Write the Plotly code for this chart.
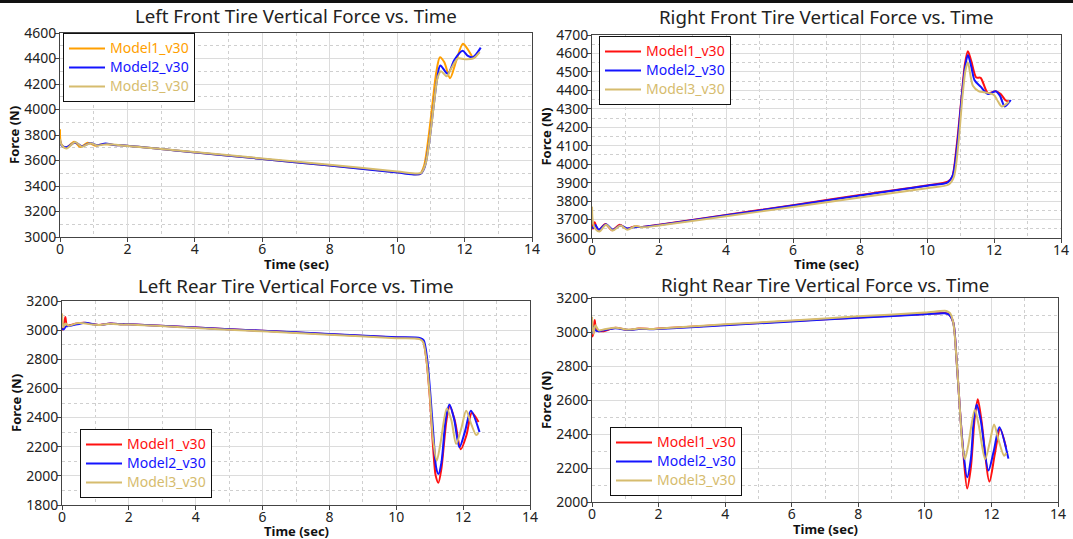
import plotly.graph_objects as go

# ---------------- data ----------------
SERIES_NAMES = ["Model1_v30", "Model2_v30", "Model3_v30"]
TITLES = ["Left Front Tire Vertical Force vs. Time",
          "Right Front Tire Vertical Force vs. Time",
          "Left Rear Tire Vertical Force vs. Time",
          "Right Rear Tire Vertical Force vs. Time"]
X_TITLE = "Time (sec)"
Y_TITLE = "Force (N)"
X_TICKS = [0, 2, 4, 6, 8, 10, 12, 14]

# Left front
LF_t1 = [0, 0.03, 0.17, 0.42, 0.6, 0.82, 1.05, 1.3, 1.6, 2.0, 3.5, 6.0, 8.0, 10.0, 10.55, 10.68, 10.8, 10.92, 11.05, 11.16, 11.27, 11.4, 11.57, 11.75, 11.95, 12.1, 12.27, 12.42]
LF_m1 = [3845, 3735, 3696, 3748, 3705, 3740, 3716, 3730, 3722, 3716, 3677, 3612, 3560, 3508, 3492, 3495, 3560, 3760, 4050, 4290, 4410, 4370, 4245, 4380, 4515, 4470, 4405, 4450]
LF_t2 = [0, 0.04, 0.2, 0.45, 0.65, 0.9, 1.1, 1.35, 1.6, 2.0, 3.5, 6.0, 8.0, 10.0, 10.55, 10.7, 10.82, 10.95, 11.08, 11.18, 11.28, 11.5, 11.7, 11.94, 12.1, 12.25, 12.48]
LF_m2 = [3760, 3720, 3705, 3742, 3712, 3738, 3720, 3733, 3722, 3716, 3677, 3612, 3560, 3506, 3490, 3497, 3550, 3740, 4020, 4230, 4345, 4280, 4390, 4460, 4420, 4410, 4485]
LF_t3 = [0, 0.05, 0.2, 0.45, 0.65, 0.9, 1.1, 1.4, 2.0, 3.5, 6.0, 8.0, 10.0, 10.6, 10.72, 10.85, 10.97, 11.1, 11.2, 11.3, 11.47, 11.62, 11.8, 12.0, 12.25, 12.45]
LF_m3 = [3770, 3720, 3695, 3745, 3708, 3735, 3718, 3728, 3714, 3679, 3616, 3566, 3514, 3498, 3505, 3580, 3780, 4060, 4250, 4300, 4260, 4330, 4400, 4395, 4400, 4450]

# Right front
RF_t1 = [0, 0.03, 0.08, 0.18, 0.4, 0.6, 0.83, 1.03, 1.28, 1.5, 2.0, 4.0, 6.0, 8.0, 10.0, 10.62, 10.75, 10.88, 11.03, 11.13, 11.22, 11.32, 11.47, 11.6, 11.82, 12.05, 12.2, 12.35, 12.47]
RF_m1 = [3680, 3650, 3685, 3640, 3676, 3642, 3672, 3650, 3663, 3660, 3672, 3725, 3778, 3833, 3885, 3905, 3930, 4090, 4360, 4540, 4612, 4560, 4470, 4468, 4385, 4395, 4380, 4345, 4340]
RF_t2 = [0, 0.04, 0.1, 0.2, 0.42, 0.62, 0.85, 1.05, 1.3, 1.5, 2.0, 4.0, 6.0, 8.0, 10.0, 10.62, 10.76, 10.9, 11.04, 11.14, 11.22, 11.32, 11.42, 11.6, 11.82, 12.05, 12.18, 12.32, 12.5]
RF_m2 = [3660, 3655, 3670, 3645, 3674, 3645, 3668, 3652, 3660, 3660, 3670, 3723, 3776, 3830, 3883, 3902, 3935, 4100, 4370, 4530, 4592, 4530, 4455, 4420, 4380, 4395, 4370, 4313, 4348]
RF_t3 = [0, 0.03, 0.1, 0.22, 0.42, 0.62, 0.85, 1.05, 1.3, 1.5, 2.0, 4.0, 6.0, 8.0, 10.0, 10.65, 10.8, 10.93, 11.06, 11.15, 11.22, 11.37, 11.55, 11.7, 11.85, 12.0, 12.12, 12.23, 12.45]
RF_m3 = [3770, 3680, 3650, 3635, 3672, 3640, 3668, 3645, 3665, 3658, 3668, 3718, 3768, 3820, 3870, 3890, 3930, 4100, 4370, 4510, 4552, 4425, 4395, 4390, 4385, 4375, 4340, 4313, 4340]

# Left rear
LR_t1 = [0, 0.05, 0.1, 0.15, 0.25, 0.45, 0.65, 0.9, 1.1, 1.45, 1.8, 2.0, 4.0, 6.0, 8.0, 10.0, 10.7, 10.8, 10.9, 11.0, 11.1, 11.18, 11.26, 11.35, 11.5, 11.6, 11.75, 11.93, 12.1, 12.26, 12.46]
LR_m1 = [3000, 3020, 3090, 3030, 3035, 3045, 3050, 3042, 3036, 3046, 3040, 3040, 3018, 2995, 2972, 2950, 2942, 2925, 2800, 2550, 2200, 2000, 1953, 2050, 2380, 2480, 2380, 2182, 2280, 2433, 2370]
LR_t2 = [0, 0.05, 0.12, 0.25, 0.45, 0.7, 0.95, 1.15, 1.45, 1.8, 2.0, 4.0, 6.0, 8.0, 10.0, 10.72, 10.82, 10.92, 11.02, 11.12, 11.19, 11.26, 11.35, 11.48, 11.59, 11.73, 11.89, 12.05, 12.23, 12.49]
LR_m2 = [3010, 3005, 3025, 3030, 3040, 3050, 3040, 3035, 3046, 3040, 3040, 3018, 2996, 2974, 2952, 2945, 2930, 2810, 2560, 2250, 2060, 2012, 2090, 2390, 2490, 2390, 2196, 2300, 2446, 2300]
LR_t3 = [0, 0.04, 0.1, 0.2, 0.45, 0.65, 0.9, 1.15, 1.45, 1.8, 2.0, 4.0, 6.0, 8.0, 10.0, 10.7, 10.8, 10.9, 11.0, 11.1, 11.21, 11.32, 11.51, 11.65, 11.79, 11.95, 12.09, 12.25, 12.39, 12.46]
LR_m3 = [3115, 3020, 3045, 3030, 3048, 3048, 3038, 3036, 3044, 3038, 3038, 3015, 2992, 2968, 2945, 2938, 2920, 2800, 2560, 2250, 2104, 2220, 2463, 2380, 2218, 2330, 2446, 2350, 2280, 2295]

# Right rear
RR_t1 = [0, 0.04, 0.08, 0.13, 0.2, 0.35, 0.7, 1.1, 1.4, 1.8, 2.0, 4.0, 6.0, 8.0, 10.0, 10.6, 10.72, 10.85, 10.95, 11.05, 11.15, 11.27, 11.38, 11.5, 11.59, 11.7, 11.94, 12.1, 12.26, 12.44]
RR_m1 = [2970, 2990, 3070, 3010, 3005, 3005, 3025, 3012, 3020, 3018, 3020, 3042, 3064, 3086, 3106, 3112, 3105, 3058, 2845, 2553, 2300, 2080, 2200, 2500, 2605, 2480, 2120, 2280, 2430, 2320]
RR_t2 = [0, 0.05, 0.1, 0.2, 0.35, 0.7, 1.1, 1.4, 1.8, 2.0, 4.0, 6.0, 8.0, 10.0, 10.6, 10.72, 10.85, 10.95, 11.05, 11.15, 11.27, 11.38, 11.47, 11.56, 11.68, 11.91, 12.07, 12.24, 12.51]
RR_m2 = [2990, 3030, 3010, 3005, 3010, 3022, 3012, 3018, 3016, 3018, 3040, 3062, 3084, 3104, 3110, 3103, 3058, 2845, 2553, 2310, 2146, 2250, 2480, 2573, 2480, 2185, 2300, 2440, 2255]
RR_t3 = [0, 0.04, 0.1, 0.2, 0.35, 0.7, 1.1, 1.4, 1.8, 2.0, 4.0, 6.0, 8.0, 10.0, 10.65, 10.75, 10.85, 10.95, 11.05, 11.13, 11.2, 11.3, 11.5, 11.62, 11.81, 11.95, 12.08, 12.22, 12.38, 12.45]
RR_m3 = [3090, 2990, 3040, 3010, 3015, 3025, 3014, 3020, 3018, 3020, 3045, 3068, 3092, 3114, 3124, 3112, 3058, 2845, 2553, 2330, 2252, 2330, 2543, 2450, 2252, 2350, 2456, 2360, 2272, 2290]

# ---------------- style / layout ----------------
W, H = 1073, 539
FONT = "Noto Sans"
C_ORANGE, C_RED, C_BLUE, C_TAN = "#FF9F00", "#FF1010", "#1414FF", "#D6BC6E"

panels = [
    dict(data=[(LF_t1, LF_m1), (LF_t2, LF_m2), (LF_t3, LF_m3)], colors=[C_ORANGE, C_BLUE, C_TAN],
         xpx=(60, 532), ypx=(33, 237), yr=[3000, 4600], dt=200, mdt=100, leg=(63, 35), tpos=15, xt=264),
    dict(data=[(RF_t1, RF_m1), (RF_t2, RF_m2), (RF_t3, RF_m3)], colors=[C_RED, C_BLUE, C_TAN],
         xpx=(592, 1061), ypx=(35, 238), yr=[3600, 4700], dt=100, mdt=50, leg=(599, 38), tpos=17, xt=264),
    dict(data=[(LR_t1, LR_m1), (LR_t2, LR_m2), (LR_t3, LR_m3)], colors=[C_RED, C_BLUE, C_TAN],
         xpx=(62, 530), ypx=(301, 505), yr=[1800, 3200], dt=200, mdt=100, leg=(80, 431), tpos=285, xt=531),
    dict(data=[(RR_t1, RR_m1), (RR_t2, RR_m2), (RR_t3, RR_m3)], colors=[C_RED, C_BLUE, C_TAN],
         xpx=(592, 1058), ypx=(298, 502), yr=[2000, 3200], dt=200, mdt=100, leg=(610, 429), tpos=284, xt=529),
]

fig = go.Figure()
layout = dict(width=W, height=H, margin=dict(l=0, r=0, t=0, b=0),
              paper_bgcolor="white", plot_bgcolor="white",
              font=dict(family=FONT, size=14, color="#222222"),
              showlegend=True, annotations=[], shapes=[])

for i, p in enumerate(panels):
    k = i + 1
    sfx = "" if k == 1 else str(k)
    legname = "legend" if k == 1 else f"legend{k}"
    for j, ((t, v), col) in enumerate(zip(p["data"], p["colors"])):
        fig.add_trace(go.Scatter(
            x=t, y=v, mode="lines",
            line=dict(color=col, width=2, shape="spline", smoothing=0.8),
            name=f'<span style="color:{col};font-size:14px">{SERIES_NAMES[j]}</span>',
            xaxis=f"x{sfx}", yaxis=f"y{sfx}", legend=legname,
            legendrank=j + 1,
        ))
    x0, x1 = p["xpx"]
    y0, y1 = p["ypx"]
    layout[f"xaxis{sfx}"] = dict(
        domain=[x0 / W, x1 / W], range=[0, 14], tickvals=X_TICKS, anchor=f"y{sfx}",
        showgrid=True, gridcolor="#dcdcdc", gridwidth=1,
        minor=dict(dtick=1, showgrid=True, gridcolor="#cfcfcf", griddash="dot", gridwidth=1),
        showline=True, linecolor="#444444", linewidth=1, mirror=True,
        ticks="outside", ticklen=4, tickcolor="#444444", ticklabelstandoff=-5,
        tickfont=dict(size=14, color="#222222"), zeroline=False,
        automargin=False,
    )
    layout[f"yaxis{sfx}"] = dict(
        domain=[1 - y1 / H, 1 - y0 / H], range=p["yr"], dtick=p["dt"], tick0=p["yr"][0],
        anchor=f"x{sfx}",
        showgrid=True, gridcolor="#dcdcdc", gridwidth=1,
        minor=dict(dtick=p["mdt"], showgrid=True, gridcolor="#cfcfcf", griddash="dot", gridwidth=1),
        showline=True, linecolor="#444444", linewidth=1, mirror=True,
        ticks="outside", ticklen=4, tickcolor="#444444", ticklabelstandoff=-4,
        tickfont=dict(size=14, color="#222222"), zeroline=False,
        title=dict(text=f"<b>{Y_TITLE}</b>", font=dict(size=13, color="#111111"), standoff=1),
        automargin=False,
    )
    lx, ly = p["leg"]
    layout[legname] = dict(
        x=lx / W, y=1 - (ly - 2) / H, xanchor="left", yanchor="top",
        bgcolor="white", bordercolor="#111111", borderwidth=1,
        font=dict(size=11, family=FONT), tracegroupgap=0, itemwidth=36,
    )
    layout["annotations"].append(dict(
        text=TITLES[i], x=(x0 + x1) / 2 / W, y=1 - p["tpos"] / H, xref="paper", yref="paper",
        xanchor="center", yanchor="middle", showarrow=False,
        font=dict(size=18.7, color="#222222", family=FONT),
    ))
    layout["annotations"].append(dict(
        text=f"<b>{X_TITLE}</b>", x=(x0 + x1) / 2 / W, y=1 - p["xt"] / H, xref="paper", yref="paper",
        xanchor="center", yanchor="middle", showarrow=False,
        font=dict(size=13, color="#111111", family=FONT),
    ))

layout["shapes"].append(dict(type="line", xref="paper", yref="paper", x0=0, x1=1,
                             y0=1 - 1.5 / H, y1=1 - 1.5 / H, line=dict(color="#111111", width=3)))

fig.update_layout(**layout)
fig.write_html("out.html", config={"displayModeBar": False},
               post_script="document.body.style.margin='0px';")
